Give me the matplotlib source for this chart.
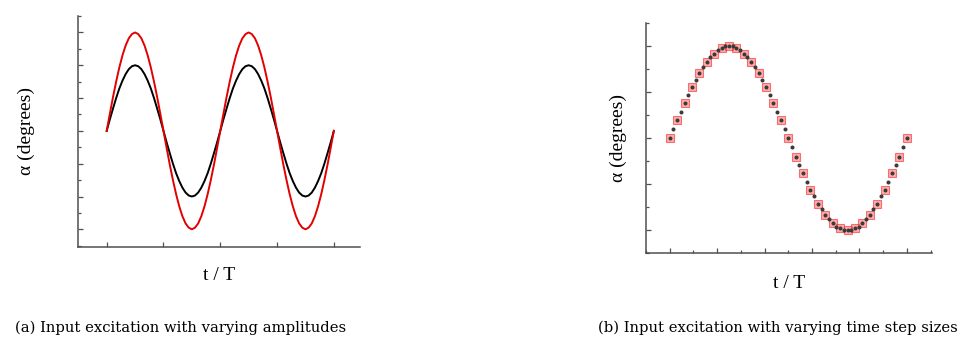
import numpy as np
import matplotlib
matplotlib.use("Agg")
import matplotlib.pyplot as plt
from matplotlib.ticker import MultipleLocator, NullFormatter

# (a) two excitation amplitudes, sampled every 1/36 of a period over two periods
dt_amp = 1.0 / 36
alpha_large = [0.0, 0.52, 1.03, 1.5, 1.93, 2.3, 2.6, 2.82, 2.95, 3.0, 2.95, 2.82, 2.6, 2.3,
               1.93, 1.5, 1.03, 0.52, 0.0, -0.52, -1.03, -1.5, -1.93, -2.3, -2.6, -2.82,
               -2.95, -3.0, -2.95, -2.82, -2.6, -2.3, -1.93, -1.5, -1.03, -0.52,
               0.0, 0.52, 1.03, 1.5, 1.93, 2.3, 2.6, 2.82, 2.95, 3.0, 2.95, 2.82, 2.6, 2.3,
               1.93, 1.5, 1.03, 0.52, 0.0, -0.52, -1.03, -1.5, -1.93, -2.3, -2.6, -2.82,
               -2.95, -3.0, -2.95, -2.82, -2.6, -2.3, -1.93, -1.5, -1.03, -0.52, 0.0]
alpha_small = [0.0, 0.35, 0.68, 1.0, 1.29, 1.53, 1.73, 1.88, 1.97, 2.0, 1.97, 1.88, 1.73,
               1.53, 1.29, 1.0, 0.68, 0.35, 0.0, -0.35, -0.68, -1.0, -1.29, -1.53, -1.73,
               -1.88, -1.97, -2.0, -1.97, -1.88, -1.73, -1.53, -1.29, -1.0, -0.68, -0.35,
               0.0, 0.35, 0.68, 1.0, 1.29, 1.53, 1.73, 1.88, 1.97, 2.0, 1.97, 1.88, 1.73,
               1.53, 1.29, 1.0, 0.68, 0.35, 0.0, -0.35, -0.68, -1.0, -1.29, -1.53, -1.73,
               -1.88, -1.97, -2.0, -1.97, -1.88, -1.73, -1.53, -1.29, -1.0, -0.68, -0.35, 0.0]

# (b) one period, fine and coarse time steps
dt_fine = 1.0 / 64
alpha_fine = [0.0, 0.10, 0.20, 0.29, 0.38, 0.47, 0.56, 0.63, 0.71, 0.77, 0.83, 0.88, 0.92,
              0.96, 0.98, 1.0, 1.0, 1.0, 0.98, 0.96, 0.92, 0.88, 0.83, 0.77, 0.71, 0.63,
              0.56, 0.47, 0.38, 0.29, 0.20, 0.10, 0.0, -0.10, -0.20, -0.29, -0.38, -0.47,
              -0.56, -0.63, -0.71, -0.77, -0.83, -0.88, -0.92, -0.96, -0.98, -1.0, -1.0,
              -1.0, -0.98, -0.96, -0.92, -0.88, -0.83, -0.77, -0.71, -0.63, -0.56, -0.47,
              -0.38, -0.29, -0.20, -0.10, 0.0]
dt_coarse = 1.0 / 32
alpha_coarse = [0.0, 0.20, 0.38, 0.56, 0.71, 0.83, 0.92, 0.98, 1.0, 0.98, 0.92, 0.83,
                0.71, 0.56, 0.38, 0.20, 0.0, -0.20, -0.38, -0.56, -0.71, -0.83, -0.92,
                -0.98, -1.0, -0.98, -0.92, -0.83, -0.71, -0.56, -0.38, -0.20, 0.0]

AX_COL = "#505050"
LBL_FONT = "Liberation Serif"
CAP_FONT = "DejaVu Serif"


def style_axes(ax):
    for s in ("top", "right"):
        ax.spines[s].set_visible(False)
    for s in ("left", "bottom"):
        ax.spines[s].set_color(AX_COL)
        ax.spines[s].set_linewidth(1.1)
    ax.tick_params(which="both", direction="in", color=AX_COL, width=0.9)
    ax.tick_params(which="major", length=3.5)
    ax.tick_params(which="minor", length=2.2)
    ax.xaxis.set_major_formatter(NullFormatter())
    ax.yaxis.set_major_formatter(NullFormatter())


fig = plt.figure(figsize=(9.63, 3.40), dpi=100)

# (a)
ax1 = fig.add_axes([0.0813, 0.2744, 0.2925, 0.6794])
t_amp = np.arange(len(alpha_large)) * dt_amp
ax1.plot(t_amp, alpha_small, color="black", lw=1.4)
ax1.plot(t_amp, alpha_large, color="#e30000", lw=1.4)
ax1.set_xlim(-0.25, 2.23)
ax1.set_ylim(-3.53, 3.51)
ax1.xaxis.set_major_locator(MultipleLocator(0.5))
ax1.yaxis.set_major_locator(MultipleLocator(1))
ax1.yaxis.set_minor_locator(MultipleLocator(0.5))
style_axes(ax1)
ax1.set_xlabel("t / T", family=LBL_FONT, fontsize=14, labelpad=11)
ax1.set_ylabel("α (degrees)", family=LBL_FONT, fontsize=14, labelpad=28)

# (b)
ax2 = fig.add_axes([0.6708, 0.255, 0.2967, 0.6765])
t_coarse = np.arange(len(alpha_coarse)) * dt_coarse
t_fine = np.arange(len(alpha_fine)) * dt_fine
ax2.plot(t_coarse, alpha_coarse, ls="none", marker="s", ms=5.3,
         mfc=(1.0, 0.3, 0.3, 0.45), mec=(0.95, 0.15, 0.15, 0.6), mew=0.8)
ax2.plot(t_fine, alpha_fine, ls="none", marker="o", ms=1.9,
         mfc="#3a3a3a", mec="#3a3a3a", zorder=3)
ax2.set_xlim(-0.1, 1.105)
ax2.set_ylim(-1.25, 1.25)
ax2.xaxis.set_major_locator(MultipleLocator(0.2))
ax2.xaxis.set_minor_locator(MultipleLocator(0.1))
ax2.yaxis.set_major_locator(MultipleLocator(0.5))
ax2.yaxis.set_minor_locator(MultipleLocator(0.25))
style_axes(ax2)
ax2.set_xlabel("t / T", family=LBL_FONT, fontsize=14, labelpad=12)
ax2.set_ylabel("α (degrees)", family=LBL_FONT, fontsize=14, labelpad=10)

fig.text(0.016, 0.015, "(a) Input excitation with varying amplitudes",
         family=CAP_FONT, fontsize=10.6, ha="left", va="bottom")
fig.text(0.621, 0.015, "(b) Input excitation with varying time step sizes",
         family=CAP_FONT, fontsize=10.6, ha="left", va="bottom")

fig.savefig("out.png", dpi=100)
